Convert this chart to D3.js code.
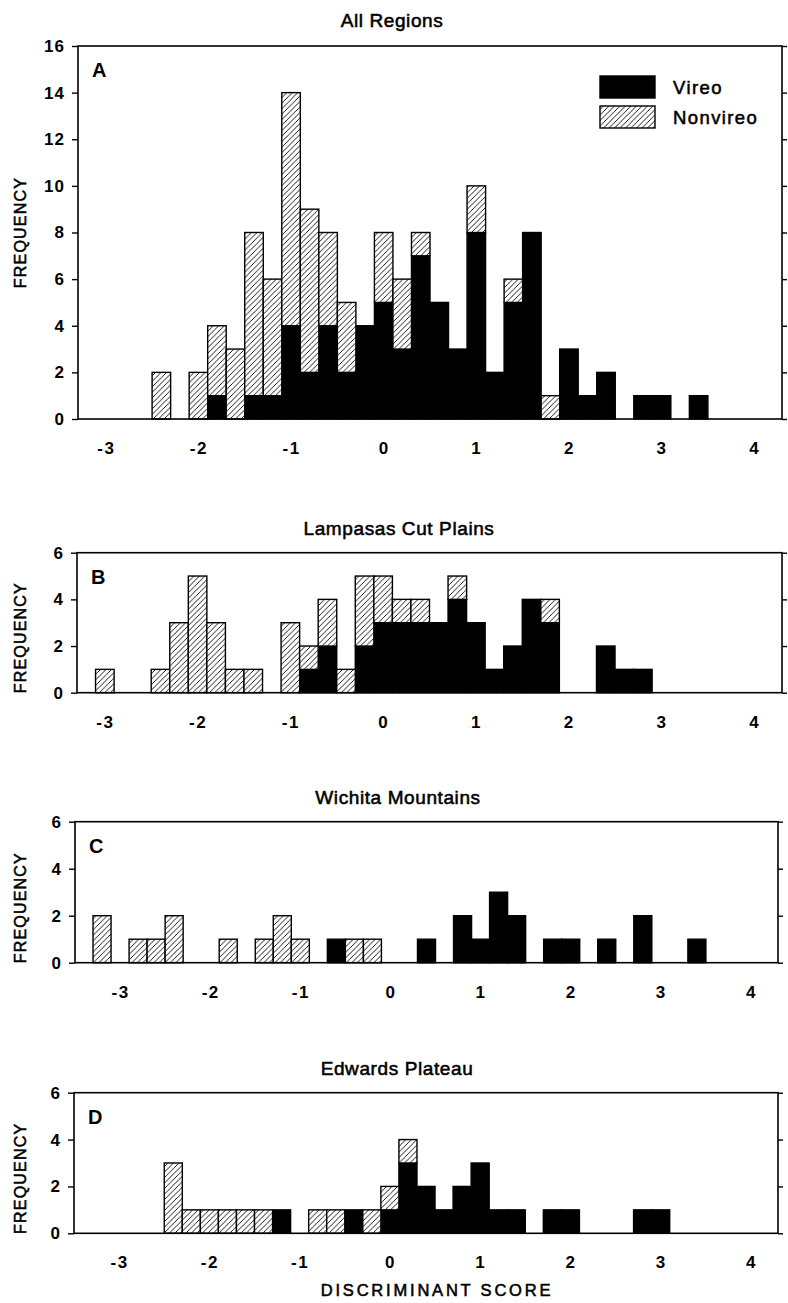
<!DOCTYPE html>
<html><head><meta charset="utf-8">
<script src="https://cdn.jsdelivr.net/npm/d3@7"></script>
<style>body{margin:0;background:#fff}</style>
</head><body>
<svg id="c" width="788" height="1303" xmlns="http://www.w3.org/2000/svg"></svg>
<script>
// ---------- DATA ----------
const binCenters = [-3.2,-3.0,-2.8,-2.6,-2.4,-2.2,-2.0,-1.8,-1.6,-1.4,-1.2,-1.0,-0.8,-0.6,-0.4,-0.2,0.0,0.2,0.4,0.6,0.8,1.0,1.2,1.4,1.6,1.8,2.0,2.2,2.4,2.6,2.8,3.0,3.2,3.4];
const binWidth = 0.2;
const titles = ["All Regions","Lampasas Cut Plains","Wichita Mountains","Edwards Plateau"];
const panelLetters = ["A","B","C","D"];
const seriesNames = ["Vireo","Nonvireo"];
const xTickValues = [-3,-2,-1,0,1,2,3,4];
const yTicksA = [0,2,4,6,8,10,12,14,16];
const yTicksSmall = [0,2,4,6];
const xAxisTitle = "DISCRIMINANT SCORE";
const yAxisTitle = "FREQUENCY";

const vireoA    = [0,0,0,0,0,0,0,1,0,1,1,4,2,4,2,4,5,3,7,5,3,8,2,5,8,0,3,1,2,0,1,1,0,1];
const nonvireoA = [0,0,0,0,2,0,2,3,3,7,5,10,7,4,3,0,3,3,1,0,0,2,0,1,0,1,0,0,0,0,0,0,0,0];
const vireoB    = [0,0,0,0,0,0,0,0,0,0,0,0,1,2,0,2,3,3,3,3,4,3,1,2,4,3,0,0,2,1,1,0,0,0];
const nonvireoB = [0,1,0,0,1,3,5,3,1,1,0,3,1,2,1,3,2,1,1,0,1,0,0,0,0,1,0,0,0,0,0,0,0,0];
const vireoC    = [0,0,0,0,0,0,0,0,0,0,0,0,0,1,0,0,0,0,1,0,2,1,3,2,0,1,1,0,1,0,2,0,0,1];
const nonvireoC = [2,0,1,1,2,0,0,1,0,1,2,1,0,0,1,1,0,0,0,0,0,0,0,0,0,0,0,0,0,0,0,0,0,0];
const vireoD    = [0,0,0,0,0,0,0,0,0,0,1,0,0,0,1,0,1,3,2,1,2,3,1,1,0,1,1,0,0,0,1,1,0,0];
const nonvireoD = [0,0,0,0,3,1,1,1,1,1,0,0,1,1,0,1,1,1,0,0,0,0,0,0,0,0,0,0,0,0,0,0,0,0];

// ---------- LAYOUT ----------
const FONT = "'Liberation Sans', Arial, Helvetica, sans-serif";
const panels = [
  {title:titles[0], letter:panelLetters[0], v:vireoA, n:nonvireoA, xr:[78,782], xd:[-3.3,4.3], yr:[419,46], ymax:16, yt:yTicksA, ty:27, tx:392},
  {title:titles[1], letter:panelLetters[1], v:vireoB, n:nonvireoB, xr:[77,782], xd:[-3.3,4.3], yr:[692.7,552.7], ymax:6, yt:yTicksSmall, ty:535, tx:399},
  {title:titles[2], letter:panelLetters[2], v:vireoC, n:nonvireoC, xr:[75,778], xd:[-3.5,4.3], yr:[962.7,821.7], ymax:6, yt:yTicksSmall, ty:804, tx:398},
  {title:titles[3], letter:panelLetters[3], v:vireoD, n:nonvireoD, xr:[74,778], xd:[-3.5,4.3], yr:[1233.3,1092.7], ymax:6, yt:yTicksSmall, ty:1075, tx:397}
];

function medium(sel){ return sel.attr("fill","#000").attr("stroke","#000").attr("stroke-width",0.55); }

const svg = d3.select("#c");
const defs = svg.append("defs");
const pat = defs.append("pattern").attr("id","hatch").attr("patternUnits","userSpaceOnUse")
  .attr("width",5.5).attr("height",5.5);
pat.append("rect").attr("width",5.5).attr("height",5.5).attr("fill","#fff");
pat.append("path").attr("d","M-1,1 L1,-1 M0,5.5 L5.5,0 M4.5,6.5 L6.5,4.5")
  .attr("stroke","#000").attr("stroke-width",0.9);

panels.forEach((p,pi)=>{
  const x = d3.scaleLinear().domain(p.xd).range(p.xr);
  const y = d3.scaleLinear().domain([0,p.ymax]).range(p.yr);
  const g = svg.append("g");
  const rows = binCenters.map((c,i)=>({c, vireo:p.v[i], nonvireo:p.n[i]}));
  const stack = d3.stack().keys(["vireo","nonvireo"])(rows);

  // bars
  stack.forEach((layer,li)=>{
    g.selectAll(null).data(layer.filter(d=>d[1]>d[0])).enter().append("rect")
      .attr("x",d=>x(d.data.c-binWidth/2))
      .attr("width",d=>x(d.data.c+binWidth/2)-x(d.data.c-binWidth/2))
      .attr("y",d=>y(d[1]))
      .attr("height",d=>y(d[0])-y(d[1]))
      .attr("fill", li===0 ? "#000" : "url(#hatch)")
      .attr("stroke","#000").attr("stroke-width",1.4);
  });

  // frame
  const [x0,x1] = p.xr, [yb,yt] = p.yr;
  g.append("rect").attr("x",x0).attr("y",yt).attr("width",x1-x0).attr("height",yb-yt)
    .attr("fill","none").attr("stroke","#000").attr("stroke-width",1.6);

  // left axis ticks + labels
  const yAxisL = d3.axisLeft(y).tickValues(p.yt).tickSize(6).tickPadding(7).tickFormat(d3.format("d"));
  const ga = g.append("g").attr("transform",`translate(${x0},0)`).call(yAxisL);
  ga.select(".domain").remove();
  ga.selectAll("line").attr("stroke","#000").attr("stroke-width",1.4);
  ga.selectAll("text").attr("font-family",FONT).attr("font-size",17).attr("font-weight","bold")
    .attr("letter-spacing",1).attr("fill","#000");
  // right axis ticks
  const yAxisR = d3.axisRight(y).tickValues(p.yt).tickSize(5).tickFormat("");
  const gr = g.append("g").attr("transform",`translate(${x1},0)`).call(yAxisR);
  gr.select(".domain").remove();
  gr.selectAll("line").attr("stroke","#000").attr("stroke-width",1.4);

  // bottom labels (no tick marks)
  const xAxis = d3.axisBottom(x).tickValues(xTickValues).tickSize(0).tickPadding(23).tickFormat(d3.format("d"));
  const gx = g.append("g").attr("transform",`translate(0,${yb})`).call(xAxis);
  gx.select(".domain").remove();
  gx.selectAll("text").attr("font-family",FONT).attr("font-size",17).attr("font-weight","bold")
    .attr("letter-spacing",1.5).attr("fill","#000")
    .text(d=> d<0 ? "-"+Math.abs(d) : String(d));

  // title
  medium(g.append("text").attr("x",p.tx).attr("y",p.ty).attr("text-anchor","middle")
    .attr("font-family",FONT).attr("font-size",19).attr("letter-spacing",0.6).text(p.title));
  // letter
  g.append("text").attr("x",x0+14).attr("y",yt+31)
    .attr("font-family",FONT).attr("font-size",20).attr("font-weight","bold").text(p.letter);
  // y title
  const yc = pi===0 ? (yb+yt)/2 : yb-55;
  medium(g.append("text").attr("transform",`translate(26,${yc}) rotate(-90)`).attr("text-anchor","middle")
    .attr("font-family",FONT).attr("font-size",16).attr("letter-spacing",1.2).text(yAxisTitle));

  // legend in panel A
  if(pi===0){
    const lg = g.append("g");
    const items = [{name:seriesNames[0], fill:"#000", y:76},{name:seriesNames[1], fill:"url(#hatch)", y:106}];
    items.forEach(it=>{
      lg.append("rect").attr("x",600).attr("y",it.y).attr("width",55).attr("height",22)
        .attr("fill",it.fill).attr("stroke","#000").attr("stroke-width",1.4);
      medium(lg.append("text").attr("x",673).attr("y",it.y+17.5).attr("font-family",FONT).attr("font-size",18.5)
        .attr("letter-spacing",1.4).text(it.name));
    });
  }
});

medium(svg.append("text").attr("x",437).attr("y",1296).attr("text-anchor","middle")
  .attr("font-family",FONT).attr("font-size",16.5).attr("letter-spacing",2.8).text(xAxisTitle));
</script>
</body></html>
